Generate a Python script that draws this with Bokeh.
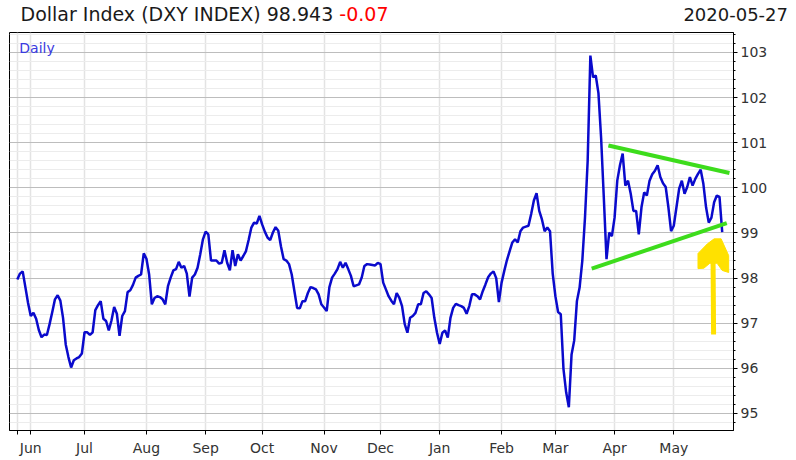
import pandas as pd
from bokeh.plotting import figure
from bokeh.layouts import column
from bokeh.models import FixedTicker, Label, Range1d, Div
from bokeh.embed import file_html
from bokeh.resources import INLINE

# ---- data -------------------------------------------------------------
start_date = "2019-05-27"
end_date = "2020-05-27"
month_labels = ["Jun", "Jul", "Aug", "Sep", "Oct", "Nov", "Dec",
                "Jan", "Feb", "Mar", "Apr", "May"]
y_ticks = [95, 96, 97, 98, 99, 100, 101, 102, 103]

dxy_close = [
    97.97, 98.10, 98.15, 97.80, 97.45, 97.16, 97.23, 97.10, 96.85, 96.69,
    96.75, 96.74, 96.98, 97.25, 97.53, 97.62, 97.50, 97.12, 96.53, 96.25,
    96.02, 96.18, 96.22, 96.25, 96.33, 96.80, 96.80, 96.74, 96.80, 97.29,
    97.40, 97.49, 97.10, 97.05, 96.84, 97.06, 97.36, 97.21, 96.72, 97.16,
    97.27, 97.69, 97.73, 97.85, 98.01, 98.05, 98.08, 98.55, 98.43, 98.08,
    97.42, 97.56, 97.60, 97.58, 97.53, 97.42, 97.82, 98.01, 98.17, 98.20,
    98.36, 98.23, 98.27, 98.10, 97.59, 98.01, 98.08, 98.23, 98.53, 98.86,
    99.03, 98.97, 98.39, 98.39, 98.39, 98.32, 98.34, 98.62, 98.34, 98.17,
    98.62, 98.27, 98.53, 98.39, 98.49, 98.60, 98.85, 99.12, 99.23, 99.21,
    99.38, 99.19, 99.03, 98.90, 98.84, 99.01, 99.13, 99.05, 98.70, 98.42,
    98.39, 98.31, 98.08, 97.71, 97.34, 97.33, 97.49, 97.49, 97.67, 97.80,
    97.78, 97.75, 97.64, 97.42, 97.35, 97.27, 97.80, 98.01, 98.10, 98.20,
    98.36, 98.23, 98.34, 98.20, 98.05, 97.82, 97.84, 97.86, 98.01, 98.27,
    98.31, 98.30, 98.29, 98.28, 98.34, 98.31, 97.90, 97.75, 97.60, 97.50,
    97.42, 97.67, 97.56, 97.38, 96.98, 96.79, 97.12, 97.16, 97.23, 97.42,
    97.42, 97.67, 97.71, 97.64, 97.56, 97.12, 96.79, 96.54, 96.79, 96.84,
    96.68, 97.12, 97.34, 97.43, 97.40, 97.38, 97.34, 97.21, 97.38, 97.64,
    97.64, 97.60, 97.53, 97.71, 97.86, 98.02, 98.10, 98.15, 98.00, 97.47,
    97.90, 98.16, 98.40, 98.60, 98.79, 98.86, 98.79, 99.04, 99.12, 99.14,
    99.16, 99.42, 99.72, 99.88, 99.49, 99.30, 99.04, 99.12, 99.04, 98.10,
    97.60, 97.25, 97.20, 95.99, 95.47, 95.14, 96.30, 96.62, 97.49, 97.79,
    98.38, 99.34, 100.60, 102.93, 102.45, 102.49, 102.10, 101.10, 99.78, 98.42,
    99.01, 98.93, 99.34, 100.16, 100.50, 100.76, 100.05, 100.16, 99.87, 99.49,
    99.49, 98.97, 99.57, 99.90, 99.83, 100.16, 100.30, 100.38, 100.50, 100.24,
    100.10, 100.02, 99.57, 99.04, 99.16, 99.57, 99.98, 100.16, 99.87, 100.02,
    100.24, 100.05, 100.20, 100.31, 100.40, 100.09, 99.57, 99.23, 99.34, 99.68,
    99.83, 99.80, 99.02, 98.943,
]

# header texts
title_main = "Dollar Index (DXY INDEX) 98.943"
title_change = "-0.07"
title_date = "2020-05-27"
period_label = "Daily"

# hand-drawn annotations (trading-day index, index level)
upper_trend_x = [219.7, 264.7]
upper_trend_y = [100.94, 100.33]
lower_trend_x = [213.5, 263.7]
lower_trend_y = [98.21, 99.22]
arrow_head_x = [253.0, 256.5, 259.0, 261.6, 264.4, 264.4, 262.0, 260.1, 257.4, 255.2, 253.0]
arrow_head_y = [98.545, 98.76, 98.87, 98.87, 98.50, 98.125, 98.17, 98.33, 98.33, 98.22, 98.21]
arrow_shaft_x = [258.6, 258.8]
arrow_shaft_y = [98.40, 96.75]

# ---- derived ----------------------------------------------------------
dates = pd.bdate_range(start_date, end_date)
n = min(len(dates), len(dxy_close))
idx = list(range(n))
vals = dxy_close[:n]

month_starts = [i for i in range(1, len(dates)) if dates[i].month != dates[i - 1].month]
x_ticks = [0] + month_starts
overrides = {0: ""}
for pos, lab in zip(month_starts, month_labels):
    overrides[pos] = lab

minor_y = []
for k in range(45):
    v = round(94.6 + 0.2 * k, 1)
    if abs(v - round(v)) > 1e-6:
        minor_y.append(v)

FONT = "DejaVu Sans"

# ---- header strip (HTML text, not clipped) ----------------------------
header_html = (
    '<div style="position:relative;width:796px;height:30px;'
    'font-family:\'DejaVu Sans\';white-space:nowrap;">'
    '<span style="position:absolute;left:20.5px;top:5px;font-size:19px;line-height:19px;color:#1a1a1a;">'
    + title_main +
    ' <span style="color:#ff0000;">' + title_change + '</span></span>'
    '<span style="position:absolute;right:8px;top:6px;font-size:18px;line-height:18px;color:#1a1a1a;">'
    + title_date + '</span>'
    '</div>'
)
h = Div(text=header_html, width=796, height=30, margin=(0, 0, 0, 0))

# ---- main chart -------------------------------------------------------
p = figure(width=796, height=430,
           x_range=Range1d(-2.9, 266.2), y_range=Range1d(94.623, 103.443),
           y_axis_location="right", output_backend="svg", toolbar_location=None,
           min_border_left=9, min_border_right=63, min_border_top=2, min_border_bottom=30)
p.frame_align = False

p.background_fill_color = "white"
p.border_fill_color = "white"
p.outline_line_color = "black"
p.outline_line_width = 1

# x axis
p.xaxis.ticker = FixedTicker(ticks=x_ticks)
p.xaxis.major_label_overrides = overrides
p.xaxis.minor_tick_line_color = None
p.xaxis.major_tick_out = 4
p.xaxis.major_tick_in = 0
p.xaxis.major_label_standoff = 5
p.xaxis.axis_line_color = "black"
p.xaxis.major_label_text_font = FONT
p.xaxis.major_label_text_font_size = "14px"
p.xaxis.major_label_text_color = "#333333"
p.xgrid.grid_line_color = "#e3e3e3"
p.xgrid.grid_line_width = 1.5

# y axis (right)
p.yaxis.ticker = FixedTicker(ticks=y_ticks, minor_ticks=minor_y)
p.yaxis.major_tick_out = 4
p.yaxis.major_tick_in = 0
p.yaxis.minor_tick_out = 2
p.yaxis.minor_tick_in = 0
p.yaxis.major_label_standoff = 3
p.yaxis.axis_line_color = "black"
p.yaxis.major_label_text_font = FONT
p.yaxis.major_label_text_font_size = "14px"
p.yaxis.major_label_text_color = "#333333"
p.ygrid.grid_line_color = "#bdbdbd"
p.ygrid.minor_grid_line_color = "#ececec"

# series
p.line(idx, vals, line_color="#0a0acc", line_width=2.5)

# annotations
p.line(upper_trend_x, upper_trend_y, line_color="#3ddc1c", line_width=4)
p.line(lower_trend_x, lower_trend_y, line_color="#3ddc1c", line_width=4)
p.line(arrow_shaft_x, arrow_shaft_y, line_color="#ffe100", line_width=5)
p.patch(arrow_head_x, arrow_head_y, fill_color="#ffe100", line_color="#ffe100", line_width=1)

p.add_layout(Label(x=0.74, y=103.11, text=period_label,
                   text_font=FONT, text_font_size="14px", text_color="#3a3ae0",
                   text_baseline="alphabetic"))

layout = column(h, p, spacing=0)
open("out.html", "w").write(file_html(layout, INLINE))
